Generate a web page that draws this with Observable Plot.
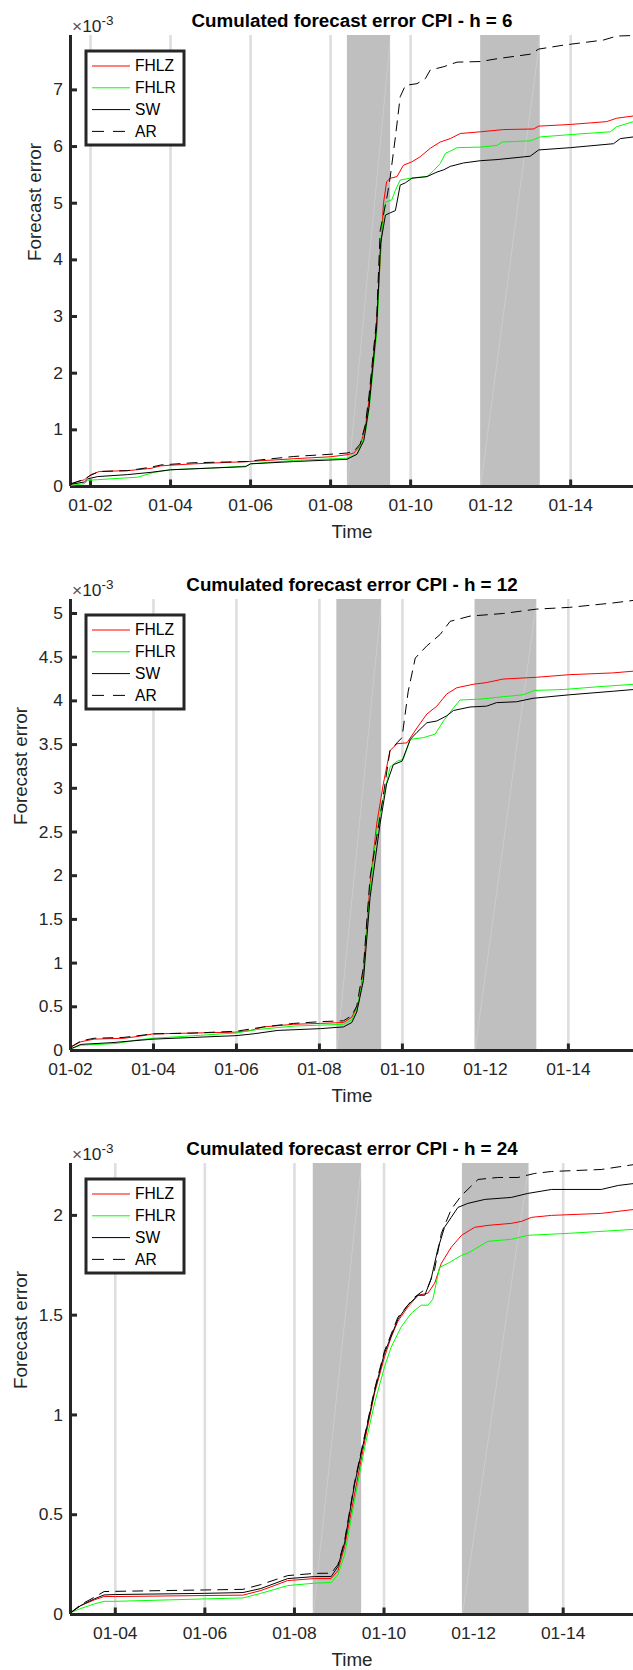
<!DOCTYPE html>
<html>
<head>
<meta charset="utf-8">
<script src="https://cdn.jsdelivr.net/npm/d3@7"></script>
<script src="https://cdn.jsdelivr.net/npm/@observablehq/plot@0.6"></script>
<style>
  html, body { margin: 0; padding: 0; background: #fff; }
  svg { display: block; }
</style>
</head>
<body>
<div id="chart"></div>
<script>
// ---------------- DATA ----------------
const seriesNames = ["FHLZ", "FHLR", "SW", "AR"];
const horizons = [6, 12, 24];

// recession shading periods (decimal years)
const recStart = [2008.42, 2011.75];
const recEnd   = [2009.50, 2013.24];

// tick values (decimal years, labelled "01-YY")
const xTicks_h6  = [2002, 2004, 2006, 2008, 2010, 2012, 2014];
const xTicks_h12 = [2002, 2004, 2006, 2008, 2010, 2012, 2014];
const xTicks_h24 = [2004, 2006, 2008, 2010, 2012, 2014];
const yTicks_h6  = [0, 1, 2, 3, 4, 5, 6, 7];
const yTicks_h12 = [0, 0.5, 1, 1.5, 2, 2.5, 3, 3.5, 4, 4.5, 5];
const yTicks_h24 = [0, 0.5, 1, 1.5, 2];

// ---- h = 6 (values x 1e-3) ----
const h6_FHLZ_t = [2001.52,2001.85,2002.01,2002.22,2002.93,2003.51,2003.76,2004.59,2005.92,2007.08,2008.0,2008.41,2008.58,2008.74,2008.87,2008.96,2009.15,2009.32,2009.40,2009.49,2009.66,2009.82,2010.03,2010.24,2010.49,2010.74,2010.99,2011.24,2011.74,2012.33,2013.07,2013.20,2013.99,2014.90,2015.15,2015.57];
const h6_FHLZ_v = [0.05,0.12,0.21,0.265,0.28,0.32,0.365,0.40,0.44,0.49,0.525,0.56,0.59,0.72,1.05,1.52,2.87,4.99,5.38,5.44,5.47,5.67,5.73,5.82,5.97,6.08,6.14,6.23,6.26,6.30,6.31,6.36,6.39,6.44,6.50,6.54];
const h6_FHLR_t = [2001.52,2001.85,2001.93,2002.18,2003.18,2003.59,2004.0,2005.0,2005.88,2006.0,2007.08,2008.41,2008.66,2008.87,2008.97,2009.16,2009.26,2009.37,2009.53,2009.62,2009.74,2010.07,2010.41,2010.58,2010.74,2010.87,2010.99,2011.16,2011.74,2012.16,2012.29,2012.99,2013.24,2014.16,2014.99,2015.15,2015.57];
const h6_FHLR_v = [0.02,0.05,0.11,0.12,0.165,0.25,0.295,0.325,0.36,0.40,0.46,0.50,0.57,0.94,1.40,2.75,4.40,5.02,5.06,5.23,5.41,5.45,5.47,5.58,5.70,5.88,5.92,5.98,5.99,6.02,6.08,6.10,6.17,6.22,6.26,6.35,6.44];
const h6_SW_t = [2001.52,2001.85,2001.93,2002.18,2002.93,2003.51,2004.0,2005.0,2005.88,2006.0,2007.08,2008.41,2008.66,2008.83,2008.96,2009.15,2009.25,2009.37,2009.49,2009.62,2009.74,2009.87,2010.03,2010.41,2010.66,2010.83,2010.99,2011.32,2011.74,2012.16,2012.99,2013.20,2013.99,2015.07,2015.24,2015.57];
const h6_SW_v = [0.04,0.08,0.135,0.175,0.21,0.25,0.295,0.325,0.35,0.40,0.44,0.48,0.57,0.81,1.40,2.80,4.29,4.79,4.83,4.87,5.32,5.36,5.44,5.47,5.55,5.59,5.65,5.71,5.75,5.77,5.83,5.94,5.98,6.05,6.14,6.17];
const h6_AR_t = [2001.52,2001.85,2002.01,2002.22,2002.93,2003.51,2003.76,2004.59,2005.92,2006.25,2007.08,2007.91,2008.41,2008.58,2008.74,2008.87,2008.96,2009.15,2009.24,2009.41,2009.49,2009.62,2009.74,2009.87,2010.16,2010.37,2010.49,2010.83,2011.16,2011.74,2012.16,2012.99,2013.20,2013.82,2014.82,2015.15,2015.57];
const h6_AR_v = [0.05,0.13,0.20,0.265,0.28,0.34,0.38,0.42,0.44,0.47,0.53,0.565,0.59,0.62,0.75,1.10,1.60,2.95,4.52,5.11,5.46,6.17,6.88,7.08,7.11,7.20,7.35,7.41,7.49,7.50,7.55,7.63,7.72,7.79,7.88,7.95,7.96];

// ---- h = 12 ----
const h12_FHLZ_t = [2002.01,2002.25,2002.57,2003.29,2003.61,2003.99,2004.98,2005.99,2006.34,2006.66,2007.38,2008.02,2008.58,2008.78,2008.94,2009.06,2009.22,2009.38,2009.54,2009.70,2009.87,2010.11,2010.35,2010.59,2010.83,2011.07,2011.31,2011.71,2012.03,2012.43,2013.23,2014.03,2015.07,2015.57];
const h12_FHLZ_v = [0.04,0.10,0.13,0.14,0.16,0.19,0.20,0.21,0.23,0.27,0.30,0.31,0.32,0.38,0.53,0.90,1.90,2.59,3.05,3.43,3.51,3.52,3.69,3.85,3.94,4.08,4.15,4.19,4.21,4.25,4.27,4.30,4.32,4.34];
const h12_FHLR_t = [2002.01,2002.25,2003.10,2003.60,2003.99,2005.99,2006.50,2007.40,2008.02,2008.58,2008.78,2008.90,2009.06,2009.22,2009.38,2009.54,2009.70,2009.87,2010.02,2010.19,2010.51,2010.79,2010.99,2011.23,2011.39,2011.87,2012.27,2012.91,2013.19,2013.87,2014.67,2015.57];
const h12_FHLR_v = [0.02,0.06,0.08,0.12,0.14,0.20,0.24,0.28,0.29,0.30,0.35,0.47,0.85,1.83,2.51,2.89,3.24,3.31,3.33,3.56,3.58,3.62,3.77,3.92,4.01,4.02,4.04,4.07,4.12,4.13,4.16,4.19];
const h12_SW_t = [2002.01,2002.25,2003.00,2003.99,2005.99,2006.40,2007.00,2008.02,2008.58,2008.78,2008.90,2009.06,2009.22,2009.46,2009.62,2009.78,2009.99,2010.19,2010.35,2010.59,2010.83,2011.07,2011.23,2011.63,2012.03,2012.27,2012.75,2013.15,2014.03,2015.07,2015.57];
const h12_SW_v = [0.02,0.07,0.09,0.13,0.17,0.19,0.23,0.25,0.27,0.32,0.44,0.80,1.75,2.59,3.05,3.27,3.31,3.56,3.64,3.75,3.77,3.83,3.89,3.93,3.94,3.98,3.99,4.03,4.07,4.11,4.13];
const h12_AR_t = [2002.01,2002.25,2002.57,2003.29,2003.99,2004.98,2005.99,2006.66,2007.38,2008.02,2008.58,2008.78,2008.90,2009.06,2009.22,2009.46,2009.70,2009.87,2009.99,2010.14,2010.31,2010.59,2010.91,2011.15,2011.63,2012.43,2013.23,2014.03,2015.07,2015.57];
const h12_AR_v = [0.04,0.11,0.14,0.15,0.19,0.20,0.22,0.27,0.31,0.33,0.34,0.40,0.51,0.95,1.98,2.67,3.43,3.52,3.58,4.11,4.49,4.63,4.76,4.91,4.97,5.00,5.05,5.07,5.12,5.15];

// ---- h = 24 ----
const h24_FHLZ_t = [2003.01,2003.23,2003.53,2003.75,2004.00,2005.99,2006.85,2007.25,2007.85,2008.45,2008.82,2008.97,2009.12,2009.34,2009.57,2009.79,2010.01,2010.16,2010.31,2010.53,2010.76,2010.98,2011.13,2011.28,2011.50,2011.73,2012.02,2012.32,2012.84,2013.07,2013.29,2013.74,2014.85,2015.59];
const h24_FHLZ_v = [0.01,0.045,0.073,0.09,0.09,0.095,0.097,0.12,0.17,0.18,0.18,0.22,0.34,0.60,0.87,1.11,1.29,1.39,1.47,1.54,1.60,1.61,1.66,1.76,1.84,1.90,1.94,1.95,1.96,1.97,1.99,2.00,2.01,2.03];
const h24_FHLR_t = [2003.01,2003.23,2003.53,2003.75,2004.00,2005.99,2006.85,2007.25,2007.85,2008.45,2008.82,2008.97,2009.12,2009.34,2009.57,2009.79,2010.01,2010.16,2010.38,2010.61,2010.83,2010.98,2011.09,2011.24,2011.43,2011.73,2011.87,2012.02,2012.32,2012.84,2013.21,2014.11,2015.59];
const h24_FHLR_v = [0.01,0.03,0.053,0.066,0.066,0.078,0.083,0.106,0.145,0.157,0.16,0.20,0.30,0.57,0.84,1.06,1.24,1.34,1.44,1.51,1.55,1.55,1.58,1.74,1.76,1.80,1.81,1.83,1.87,1.88,1.90,1.91,1.93];
const h24_SW_t = [2003.01,2003.23,2003.53,2003.75,2004.00,2005.99,2006.85,2007.25,2007.85,2008.45,2008.82,2008.97,2009.12,2009.34,2009.57,2009.79,2010.01,2010.31,2010.53,2010.76,2010.91,2011.05,2011.20,2011.35,2011.50,2011.65,2011.87,2012.25,2012.84,2013.21,2013.74,2014.85,2015.23,2015.59];
const h24_SW_v = [0.01,0.045,0.078,0.098,0.10,0.106,0.11,0.13,0.18,0.19,0.19,0.24,0.36,0.65,0.89,1.12,1.31,1.48,1.55,1.60,1.60,1.68,1.83,1.94,1.99,2.04,2.06,2.08,2.09,2.11,2.13,2.13,2.15,2.16];
const h24_AR_t = [2003.01,2003.23,2003.53,2003.75,2004.00,2005.99,2006.85,2007.25,2007.85,2008.45,2008.82,2008.97,2009.12,2009.34,2009.57,2009.79,2010.01,2010.31,2010.68,2010.98,2011.13,2011.28,2011.50,2011.73,2012.10,2012.54,2012.99,2013.36,2013.74,2014.85,2015.59];
const h24_AR_v = [0.01,0.05,0.086,0.115,0.116,0.123,0.126,0.15,0.195,0.206,0.207,0.25,0.37,0.66,0.90,1.13,1.32,1.49,1.59,1.64,1.73,1.91,2.03,2.10,2.18,2.19,2.19,2.21,2.22,2.23,2.255];

// axis limits
const xStart = [2001.5, 2002.0, 2003.0];
const xEnd = 2015.57;
const yMax = [7.96, 5.16, 2.26];

// ---------------- BUILD ----------------
const FONT = '"Liberation Sans", Arial, Helvetica, sans-serif';
const INK = "#262626";
const styles = {
  FHLZ: {stroke: "#ff0000"},
  FHLR: {stroke: "#00ff00"},
  SW:   {stroke: "#000000"},
  AR:   {stroke: "#000000", strokeDasharray: "10,7"}
};
const legendDash = {AR: "12,9"};
const raw = {
  6:  {FHLZ: [h6_FHLZ_t, h6_FHLZ_v], FHLR: [h6_FHLR_t, h6_FHLR_v], SW: [h6_SW_t, h6_SW_v], AR: [h6_AR_t, h6_AR_v]},
  12: {FHLZ: [h12_FHLZ_t, h12_FHLZ_v], FHLR: [h12_FHLR_t, h12_FHLR_v], SW: [h12_SW_t, h12_SW_v], AR: [h12_AR_t, h12_AR_v]},
  24: {FHLZ: [h24_FHLZ_t, h24_FHLZ_v], FHLR: [h24_FHLR_t, h24_FHLR_v], SW: [h24_SW_t, h24_SW_v], AR: [h24_AR_t, h24_AR_v]}
};
const xTicksAll = [xTicks_h6, xTicks_h12, xTicks_h24];
const yTicksAll = [yTicks_h6, yTicks_h12, yTicks_h24];
const recessions = recStart.map((s, i) => ({start: s, end: recEnd[i]}));

const W = 633, ML = 70, MT = 35, PH = 451;
const PW = W - ML;
const heights = [564, 564, 542];
const yLabelDx = [-35.5, -49.5, -49.5];

const fmtX = d => "01-" + String(Math.round(d) % 100).padStart(2, "0");
const fmtY = d => String(d);

const root = document.getElementById("chart");

horizons.forEach((h, i) => {
  const H = heights[i];
  const MB = H - MT - PH;
  const ymax = yMax[i];
  const xt = xTicksAll[i], yt = yTicksAll[i];
  const lineMarks = seriesNames.map(name => {
    const [t, v] = raw[h][name];
    const data = t.map((tt, k) => ({t: tt, v: v[k]}));
    return Plot.line(data, {x: "t", y: "v", strokeWidth: 1, ...styles[name]});
  });

  const svg = Plot.plot({
    width: W, height: H,
    marginLeft: ML, marginRight: 0, marginTop: MT, marginBottom: MB,
    style: {fontFamily: FONT, color: INK, background: "#fff", overflow: "visible"},
    x: {domain: [xStart[i], xEnd], label: null},
    y: {domain: [0, ymax], label: null},
    marks: [
      // light vertical gridlines at ticks
      Plot.ruleX(xt, {stroke: "#dedede", strokeWidth: 2.6}),
      // inward ticks (under shading, as in MATLAB layer bottom)
      Plot.ruleX(xt, {stroke: INK, strokeWidth: 3, insetTop: PH - 6.5}),
      Plot.ruleY(yt, {stroke: INK, strokeWidth: 3, insetRight: PW - 7}),
      // recession shading
      Plot.rect(recessions, {x1: "start", x2: "end", y1: 0, y2: ymax, fill: "#bfbfbf"}),
      Plot.link(recessions, {x1: "start", x2: "end", y1: 0, y2: ymax, stroke: "#fff", strokeOpacity: 0.2, strokeWidth: 1}),
      // axis lines
      Plot.ruleX([xStart[i]], {stroke: INK, strokeWidth: 3}),
      Plot.ruleY([0], {stroke: INK, strokeWidth: 3}),
      // tick labels
      Plot.axisX({ticks: xt, tickFormat: fmtX, tickSize: 0, tickPadding: 12.5, fontSize: 17.4, label: null}),
      Plot.axisY({ticks: yt, tickFormat: fmtY, tickSize: 0, tickPadding: 7.5, fontSize: 17.4, label: null}),
      // series
      ...lineMarks,
      // title & labels
      Plot.text([`Cumulated forecast error CPI - h = ${h}`], {text: d => d, frameAnchor: "top", lineAnchor: "middle", dy: -15, fontSize: 18.8, fontWeight: "bold", fill: "#000"}),
      Plot.text(["Time"], {text: d => d, frameAnchor: "bottom", lineAnchor: "middle", dy: 45.5, fontSize: 18.8}),
      Plot.text(["Forecast error"], {text: d => d, frameAnchor: "left", lineAnchor: "middle", rotate: -90, dx: yLabelDx[i], fontSize: 18.8})
    ]
  });

  const s = d3.select(svg);
  // exponent label ×10^-3
  const ex = s.append("text")
    .attr("x", ML + 2).attr("y", MT - 3.3)
    .attr("text-anchor", "start")
    .attr("font-family", FONT).attr("font-size", 17.4).attr("fill", INK);
  ex.append("tspan").text("\u00d7").attr("fill", "#555");
  ex.append("tspan").text("10");
  ex.append("tspan").text("-3").attr("font-size", 13.5).attr("dy", -7);

  // legend
  const lx = ML + 16, ly = MT + 16, lw = 98, lh = 94;
  const g = s.append("g").attr("font-family", FONT).attr("font-size", 15.6)
    .attr("fill", "#000").attr("text-anchor", "start");
  g.append("rect").attr("x", lx).attr("y", ly).attr("width", lw).attr("height", lh)
    .attr("fill", "#fff").attr("stroke", INK).attr("stroke-width", 3);
  seriesNames.forEach((name, k) => {
    const yy = ly + 15 + k * 21.8;
    g.append("line").attr("x1", lx + 6).attr("x2", lx + 44).attr("y1", yy).attr("y2", yy)
      .attr("stroke", styles[name].stroke).attr("stroke-width", 1)
      .attr("stroke-dasharray", legendDash[name] || null);
    g.append("text").attr("x", lx + 49).attr("y", yy).attr("dy", "0.35em")
      .attr("text-anchor", "start").text(name);
  });

  root.appendChild(svg);
});
</script>
</body>
</html>
